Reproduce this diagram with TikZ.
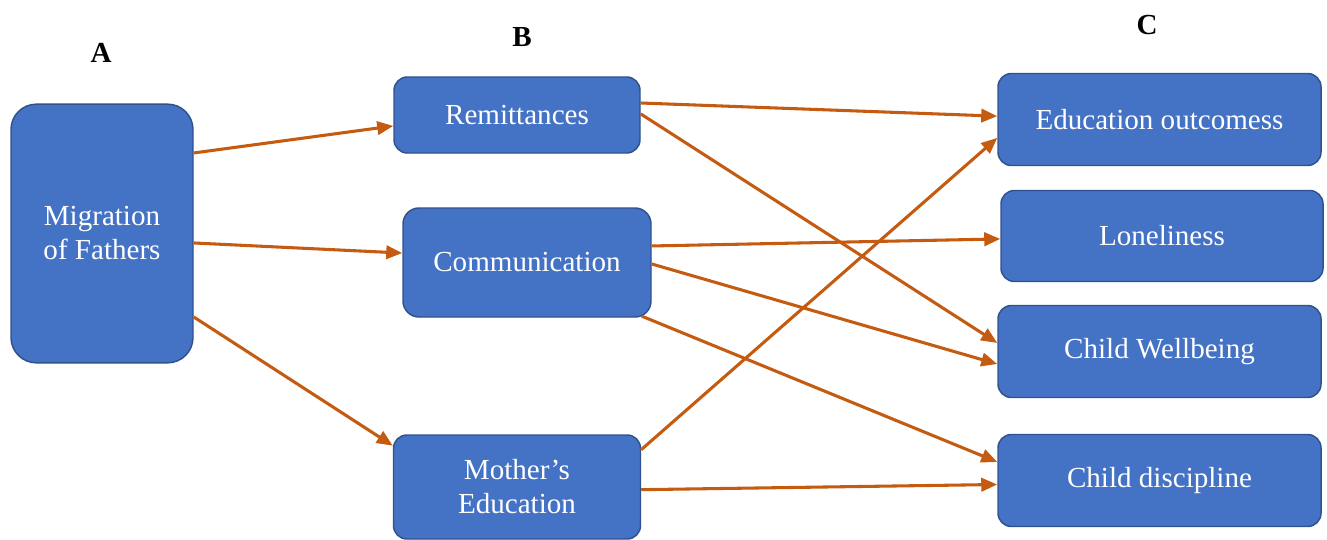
\documentclass[tikz,border=0pt]{standalone}
\usepackage{fontspec}
\setmainfont{Liberation Serif}
\usetikzlibrary{arrows.meta}
\definecolor{boxfill}{HTML}{4472C4}
\definecolor{boxline}{HTML}{2F528F}
\definecolor{arrowc}{HTML}{C55A11}

\begin{document}
\begin{tikzpicture}[x=0.75pt,y=-0.75pt,
    factor/.style={draw=boxline,fill=boxfill,line width=1.1pt,rounded corners=10pt,
      text=white,align=center,inner sep=0pt,font=\fontsize{21.8pt}{25.5pt}\selectfont},
    colhead/.style={font=\fontsize{21.8pt}{25pt}\selectfont\bfseries},
    link/.style={draw=arrowc,line width=2.3pt,-{Triangle[length=12pt,width=10pt]}}]
   \useasboundingbox (0,0) rectangle (1327,539);
   \node[colhead] (A) at (101,53) {A};
   \node[colhead] (B) at (522,37) {B};
   \node[colhead] (C) at (1147,25) {C};
   \node[factor,rounded corners=19pt,minimum width=136.5pt,minimum height=194pt] (mig) at (102,233.5) {Migration\\of Fathers};
   \node[factor,minimum width=184.5pt,minimum height=57pt] (rem) at (517,115) {Remittances};
   \node[factor,rounded corners=12pt,minimum width=186pt,minimum height=81.75pt] (com) at (527,262.5) {Communication};
   \node[factor,minimum width=185.25pt,minimum height=78pt] (mot) at (517,487) {Mother’s\\Education};
   \node[factor,minimum width=242.25pt,minimum height=69pt] (edu) at (1159.5,119.5) {Education outcomess};
   \node[factor,minimum width=241.5pt,minimum height=68.25pt] (lon) at (1162,236) {Loneliness};
   \node[factor,minimum width=242.25pt,minimum height=69pt] (wel) at (1159.5,351.5) {Child Wellbeing};
   \node[factor,minimum width=242.25pt,minimum height=69pt] (dis) at (1159.5,480.5) {Child discipline};
   \path[every edge/.style=link]
        ([yshift=60.4pt]mig.east) edge ([yshift=-8.2pt]rem.west)
        ([yshift=-7.1pt]mig.east) edge ([yshift=7.1pt]com.west)
        ([yshift=-62.6pt]mig.east) edge ([yshift=31pt]mot.west)
        ([yshift=9pt]rem.east) edge ([yshift=2.5pt]edu.west)
        ([yshift=0.8pt]rem.east) edge ([yshift=6.4pt]wel.west)
        ([yshift=12.4pt]com.east) edge ([yshift=-2.2pt]lon.west)
        ([yshift=-1.1pt]com.east) edge ([yshift=-9.4pt]wel.west)
        ([xshift=-7.5pt,yshift=1.2pt]com.south east) edge ([yshift=13.9pt]dis.west)
        ([yshift=28pt]mot.east) edge ([yshift=-13.8pt]edu.west)
        ([yshift=-2pt]mot.east) edge ([yshift=-3pt]dis.west)
        ;
\end{tikzpicture}
\end{document}
